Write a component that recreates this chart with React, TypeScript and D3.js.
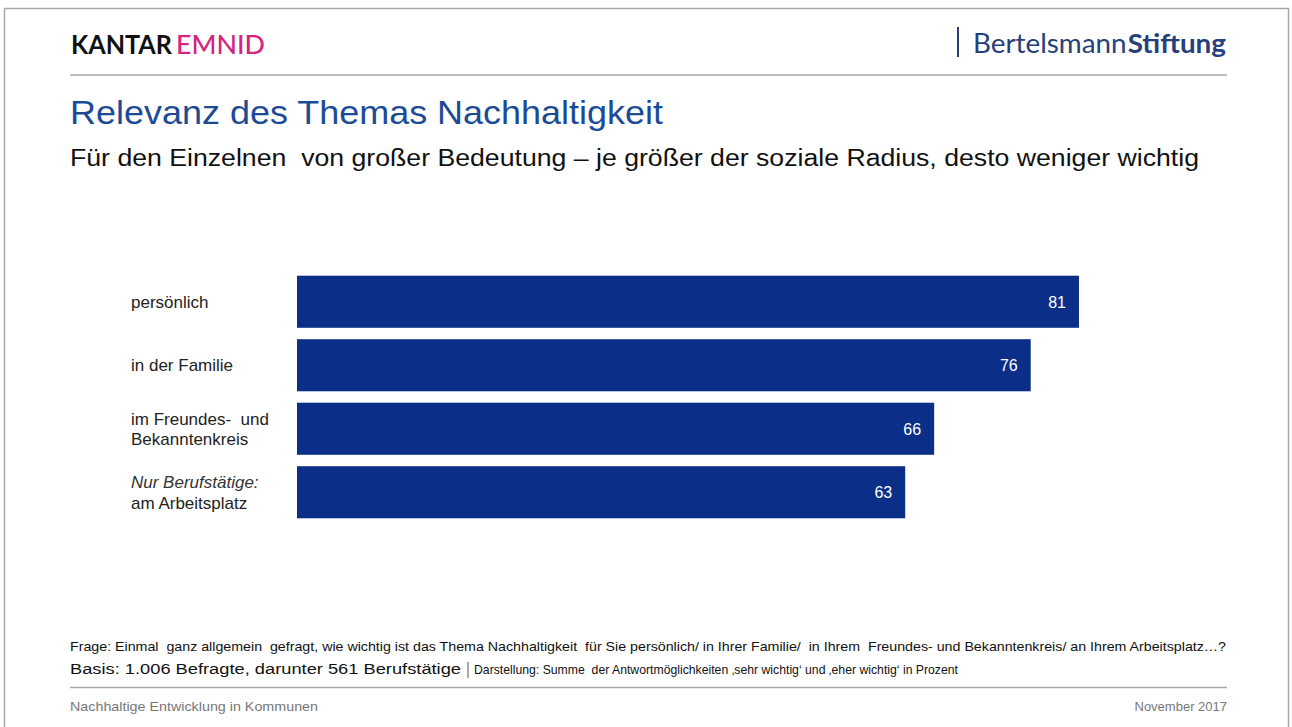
import React from "react";
import * as d3 from "d3";

const categories = ["persönlich", "in der Familie", "im Freundes- und Bekanntenkreis", "Nur Berufstätige: am Arbeitsplatz"];
const labelLines: { text: string; italic: boolean }[][] = [
  [{ text: "persönlich", italic: false }],
  [{ text: "in der Familie", italic: false }],
  [{ text: "im Freundes-  und", italic: false }, { text: "Bekanntenkreis", italic: false }],
  [{ text: "Nur Berufstätige:", italic: true }, { text: "am Arbeitsplatz", italic: false }],
];
const values = [81, 76, 66, 63];

const title = "Relevanz des Themas Nachhaltigkeit";
const subtitle = "Für den Einzelnen  von großer Bedeutung – je größer der soziale Radius, desto weniger wichtig";
const note1 = "Frage: Einmal  ganz allgemein  gefragt, wie wichtig ist das Thema Nachhaltigkeit  für Sie persönlich/ in Ihrer Familie/  in Ihrem  Freundes- und Bekanntenkreis/ an Ihrem Arbeitsplatz…?";
const note2a = "Basis: 1.006 Befragte, darunter 561 Berufstätige";
const note2b = "Darstellung: Summe  der Antwortmöglichkeiten ‚sehr wichtig‘ und ‚eher wichtig‘ in Prozent";
const footerLeft = "Nachhaltige Entwicklung in Kommunen";
const footerRight = "November 2017";

export default function App() {
  const W = 1292, H = 727;
  const x = d3.scaleLinear().domain([0, 100]).range([297, 297 + 965.4]);
  const y = d3.scaleBand<string>().domain(categories).range([270, 524]).paddingInner(0.18).paddingOuter(0.09);
  const font = "'Liberation Sans', Arial, sans-serif";
  const barColor = "#0b2f88";
  return (
    <svg width={W} height={H} style={{ position: "absolute", left: 0, top: 0, background: "#fff" }} fontFamily={font}>
      <rect x={4.5} y={8.5} width={1284} height={730} fill="#fff" stroke="#a8a8a8" strokeWidth={1.5} />
      {/* header logos */}
      <text x={71} y={54} fontFamily="Lato, 'Open Sans', sans-serif" fontSize={26} fontWeight={700} fill="#111" textLength={101} lengthAdjust="spacingAndGlyphs">KANTAR</text>
      <text x={176} y={54} fontFamily="Lato, 'Open Sans', sans-serif" fontSize={26} fontWeight={500} fill="#d6247f" textLength={89} lengthAdjust="spacingAndGlyphs">EMNID</text>
      <line x1={958} x2={958} y1={27} y2={57} stroke="#2a3f6f" strokeWidth={2} />
      <text x={973} y={53} fontFamily="Lato, 'Open Sans', sans-serif" fontSize={26} fill="#26407a" textLength={253} lengthAdjust="spacingAndGlyphs">
        Bertelsmann<tspan dx={1} fontWeight={700}>Stiftung</tspan>
      </text>
      <line x1={70} x2={1227} y1={75} y2={75} stroke="#aaaaaa" strokeWidth={1.5} />
      {/* titles */}
      <text x={70} y={124} fontSize={34} fill="#1c4b96" textLength={593} lengthAdjust="spacingAndGlyphs">{title}</text>
      <text x={70} y={166} fontSize={23} fill="#111" textLength={1129} lengthAdjust="spacingAndGlyphs" style={{ whiteSpace: "pre" }}>{subtitle}</text>
      {/* bars */}
      {categories.map((c, i) => {
        const y0 = y(c)!;
        const bw = y.bandwidth();
        const cy = y0 + bw / 2;
        const lines = labelLines[i];
        const n = lines.length;
        return (
          <g key={c}>
            <rect x={x(0)} y={y0} width={x(values[i]) - x(0)} height={bw} fill={barColor} />
            <text x={x(values[i]) - 13} y={cy + 6} textAnchor="end" fontSize={16} fill="#fff">{values[i]}</text>
            {lines.map((l, j) => (
              <text key={j} x={131} y={cy + 6 + (j - (n - 1) / 2) * 20.5} fontSize={17} fill={l.italic ? "#333" : "#222"} fontStyle={l.italic ? "italic" : "normal"} style={{ whiteSpace: "pre" }}>{l.text}</text>
            ))}
          </g>
        );
      })}
      {/* notes */}
      <text x={70} y={651} fontSize={13} fill="#111" textLength={1156} lengthAdjust="spacingAndGlyphs" style={{ whiteSpace: "pre" }}>{note1}</text>
      <text x={70} y={674} fontSize={14} fill="#111" textLength={391} lengthAdjust="spacingAndGlyphs">{note2a}</text>
      <line x1={468} x2={468} y1={662} y2={678} stroke="#555" strokeWidth={1} />
      <text x={474} y={674} fontSize={13} fill="#111" textLength={484} lengthAdjust="spacingAndGlyphs" style={{ whiteSpace: "pre" }}>{note2b}</text>
      <line x1={70} x2={1227} y1={687.5} y2={687.5} stroke="#aaaaaa" strokeWidth={1.5} />
      <text x={70} y={711} fontSize={13} fill="#777" textLength={248} lengthAdjust="spacingAndGlyphs">{footerLeft}</text>
      <text x={1227} y={711} fontSize={13} fill="#777" textAnchor="end">{footerRight}</text>
    </svg>
  );
}
